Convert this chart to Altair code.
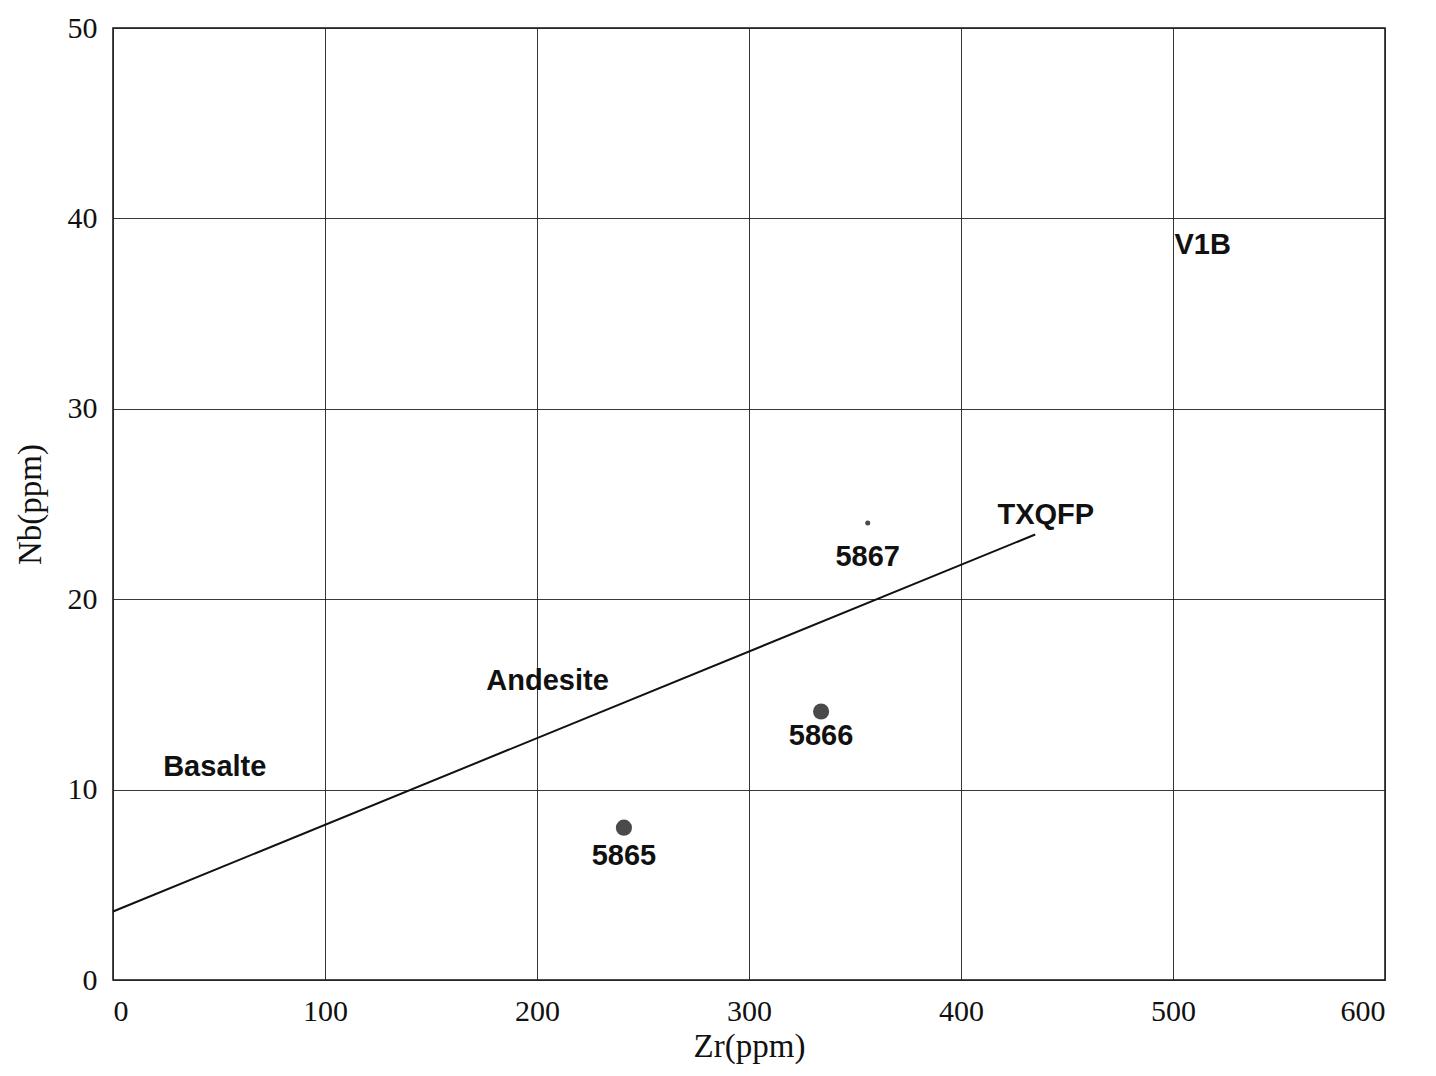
import altair as alt
import pandas as pd

# Samples
sample_ids = ["5865", "5866", "5867"]
sample_zr = [241, 334, 356]
sample_nb = [8.0, 14.1, 24.0]
sample_size = [260, 260, 25]

# Discriminant line
line_zr = [0, 435]
line_nb = [3.6, 23.4]

# Field labels
field_names = ["Basalte", "Andesite", "TXQFP", "V1B"]
field_zr = [48, 205, 440, 514]
field_nb = [11.2, 15.7, 24.4, 38.6]

# Sample label positions
label_nb = [6.5, 12.8, 22.2]

pts = pd.DataFrame({"id": sample_ids, "Zr": sample_zr, "Nb": sample_nb, "s": sample_size})
lab = pd.DataFrame({"id": sample_ids, "Zr": sample_zr, "Nb": label_nb})
ln = pd.DataFrame({"Zr": line_zr, "Nb": line_nb})
fields = pd.DataFrame({"name": field_names, "Zr": field_zr, "Nb": field_nb})

xs = alt.Scale(domain=[0, 600], nice=False)
ys = alt.Scale(domain=[0, 50], nice=False)

xenc = alt.X("Zr:Q", scale=xs, title="Zr(ppm)",
             axis=alt.Axis(values=[0, 100, 200, 300, 400, 500, 600], ticks=False,
                           labelPadding=16, titlePadding=4))
yenc = alt.Y("Nb:Q", scale=ys, title="Nb(ppm)",
             axis=alt.Axis(values=[0, 10, 20, 30, 40, 50], ticks=False,
                           labelPadding=16, titlePadding=20))

points = alt.Chart(pts).mark_circle(color="#4a4a4a", opacity=1).encode(
    x=xenc, y=yenc, size=alt.Size("s:Q", scale=None, legend=None)
)
line = alt.Chart(ln).mark_line(color="#111111", strokeWidth=2).encode(x=xenc, y=yenc)
labels = alt.Chart(lab).mark_text(font="Liberation Sans", fontWeight="bold", fontSize=29,
                                  color="#111111").encode(x=xenc, y=yenc, text="id:N")
flabels = alt.Chart(fields).mark_text(font="Liberation Sans", fontWeight="bold", fontSize=29,
                                      color="#111111").encode(x=xenc, y=yenc, text="name:N")

chart = alt.layer(line, points, labels, flabels).properties(
    width=1272, height=952,
    padding={"left": 105, "top": 20, "right": 40, "bottom": 92},
    autosize=alt.AutoSizeParams(type="none"),
    background="white",
).configure_view(stroke="#111111", strokeWidth=1.5).configure_axis(
    grid=True, gridColor="#222222", gridWidth=1, gridOpacity=0.9,
    domain=False,
    labelFont="Liberation Serif", labelFontSize=30, labelColor="#111111",
    titleFont="Liberation Serif", titleFontSize=33, titleFontWeight="normal", titleColor="#111111",
)

chart.save("out.html", embed_options={"renderer": "svg", "actions": False})
